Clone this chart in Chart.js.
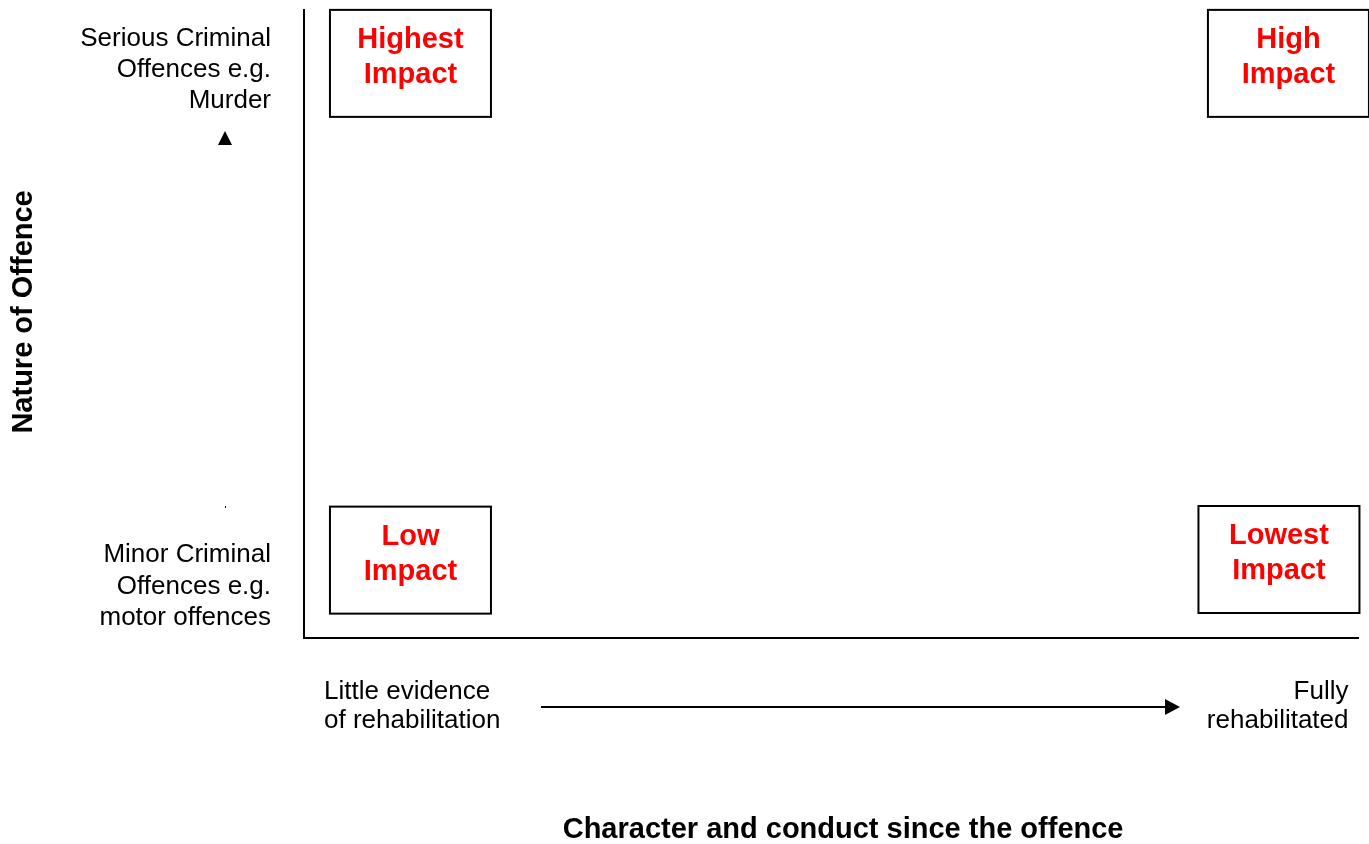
<!DOCTYPE html>
<html>
<head>
<meta charset="utf-8">
<script src="https://cdn.jsdelivr.net/npm/chart.js@4.4.1/dist/chart.umd.min.js"></script>
<style>
  html, body { margin: 0; padding: 0; background: #fff; }
  #wrap { width: 1369px; height: 844px; }
</style>
</head>
<body>
<div id="wrap"><canvas id="impactChart" width="1369" height="844"></canvas></div>
<script>
// quadrant boxes: x = rehabilitation (0-10), y = seriousness of offence (0-10)
const quadrants = [['Highest', 'Impact'], ['High', 'Impact'], ['Low', 'Impact'], ['Lowest', 'Impact']];
const rehabilitation = [1.01, 9.34, 1.01, 9.25];
const seriousness = [9.15, 9.15, 1.24, 1.25];

const yTickValues = [0.82, 9.05];
const yTickLabels = [
  ['Minor Criminal', 'Offences e.g.', 'motor offences'],
  ['Serious Criminal', 'Offences e.g.', 'Murder']
];
const xTickValues = [0.19, 9.91];
const xTickLabels = [['Little evidence', 'of rehabilitation'], ['Fully', 'rehabilitated']];

const FONT = '"Liberation Sans", Arial, sans-serif';
const yTextFont = { family: FONT, size: 26, lineHeight: 1.2 };
const xTextFont = { family: FONT, size: 26, lineHeight: 1.13 };
const titleFont = { family: FONT, size: 29, weight: 'bold', lineHeight: 1.1 };

// draws the four impact boxes centred on their points
const impactBoxes = {
  id: 'impactBoxes',
  afterDatasetsDraw(chart) {
    const ctx = chart.ctx;
    const meta = chart.getDatasetMeta(0);
    ctx.save();
    meta.data.forEach((pt, i) => {
      const w = 161, h = 107;
      const left = pt.x - w / 2, top = pt.y - h / 2;
      ctx.fillStyle = '#fff';
      ctx.fillRect(left, top, w, h);
      ctx.strokeStyle = '#000';
      ctx.lineWidth = 2;
      ctx.strokeRect(left, top, w, h);
      ctx.fillStyle = '#ff0000';
      ctx.font = 'bold 29px ' + FONT;
      ctx.textAlign = 'center';
      ctx.textBaseline = 'middle';
      quadrants[i].forEach((line, j) => ctx.fillText(line, pt.x, top + 30 + j * 35));
    });
    ctx.restore();
  }
};

// arrow under the x axis and the small marker beside the y axis
const axisArrows = {
  id: 'axisArrows',
  afterDraw(chart) {
    const ctx = chart.ctx;
    const a = chart.chartArea;
    ctx.save();
    ctx.strokeStyle = '#000';
    ctx.fillStyle = '#000';
    ctx.lineWidth = 2;
    const y = a.bottom + 69;
    const x0 = a.left + 237, x1 = a.left + 876;
    ctx.beginPath();
    ctx.moveTo(x0, y);
    ctx.lineTo(x1 - 14, y);
    ctx.stroke();
    ctx.beginPath();
    ctx.moveTo(x1, y);
    ctx.lineTo(x1 - 15, y - 8);
    ctx.lineTo(x1 - 15, y + 8);
    ctx.closePath();
    ctx.fill();

    const cx = a.left - 79;
    ctx.beginPath();
    ctx.moveTo(cx, 131);
    ctx.lineTo(cx - 7, 145);
    ctx.lineTo(cx + 7, 145);
    ctx.closePath();
    ctx.fill();
    ctx.fillRect(cx, 506, 1, 2);
    ctx.restore();
  }
};

const noOverflow = s => { s.paddingTop = 0; s.paddingBottom = 0; s.paddingLeft = 0; s.paddingRight = 0; };

new Chart(document.getElementById('impactChart'), {
  type: 'scatter',
  data: {
    datasets: [{
      data: quadrants.map((q, i) => ({ x: rehabilitation[i], y: seriousness[i] })),
      pointRadius: 0,
      pointHoverRadius: 0,
      clip: false
    }]
  },
  options: {
    responsive: false,
    animation: false,
    events: [],
    layout: { padding: { top: 10, right: 11, left: 0, bottom: 0 } },
    plugins: { legend: { display: false }, tooltip: { enabled: false } },
    scales: {
      x: {
        type: 'linear', min: 0, max: 10,
        grid: { display: false },
        border: { display: true, color: '#000', width: 2 },
        afterBuildTicks: s => { s.ticks = xTickValues.map(v => ({ value: v })); },
        afterFit: s => { s.height = 206; noOverflow(s); },
        ticks: {
          align: 'inner', autoSkip: false, maxRotation: 0, minRotation: 0,
          padding: 31, color: '#000', font: xTextFont,
          callback: (v, i) => xTickLabels[i]
        },
        title: {
          display: true, text: '   Character and conduct since the offence',
          color: '#000', font: titleFont, padding: { top: 0, bottom: -2 }
        }
      },
      y: {
        type: 'linear', min: 0, max: 10,
        grid: { display: false },
        border: { display: true, color: '#000', width: 2 },
        afterBuildTicks: s => { s.ticks = yTickValues.map(v => ({ value: v })); },
        afterFit: s => { s.width = 304; noOverflow(s); },
        ticks: {
          autoSkip: false, padding: 25, color: '#000', font: yTextFont,
          callback: (v, i) => yTickLabels[i]
        },
        title: {
          display: true, text: '   Nature of Offence',
          color: '#000', font: titleFont, padding: { top: 8, bottom: 0 }
        }
      }
    }
  },
  plugins: [impactBoxes, axisArrows]
});
</script>
</body>
</html>
